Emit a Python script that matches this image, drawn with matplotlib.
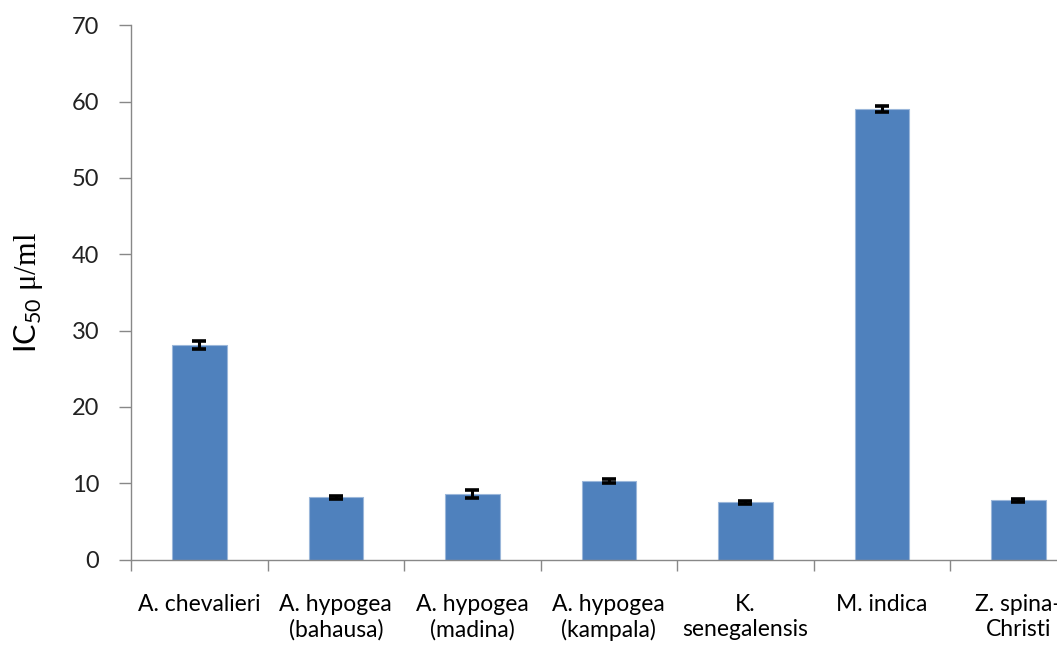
import matplotlib
matplotlib.use("Agg")
import matplotlib.pyplot as plt
import numpy as np

plt.rcParams["mathtext.fontset"] = "custom"
plt.rcParams["mathtext.rm"] = "Liberation Serif"
plt.rcParams["mathtext.sf"] = "Lato"

# IC50 values per extract with standard deviations
species = ["A. chevalieri", "A. hypogea\n(bahausa)", "A. hypogea\n(madina)",
           "A. hypogea\n(kampala)", "K.\nsenegalensis", "M. indica",
           "Z. spina-\nChristi"]
ic50 = [28.1, 8.15, 8.6, 10.3, 7.5, 59.0, 7.8]
sd = [0.55, 0.2, 0.55, 0.2, 0.2, 0.4, 0.2]

fig = plt.figure(figsize=(10.57, 6.47), dpi=100)
ax = fig.add_axes([0.124, 0.135, 0.904, 0.826])

x = np.arange(len(species))
ax.bar(x, ic50, width=0.4, color="#4F81BD", edgecolor="#9BB7DA", linewidth=0.8,
       yerr=sd, error_kw=dict(ecolor="black", elinewidth=2.2, capsize=5.2, capthick=2.6))

ax.set_xlim(-0.5, len(species) - 0.5)
ax.set_ylim(0, 70)
ax.set_yticks(range(0, 71, 10))
ax.set_xticks(np.arange(-0.5, len(species), 1.0))
ax.set_xticklabels([])
ax.set_xticks(x, minor=True)
ax.set_xticklabels(species, minor=True, fontsize=16.5, family="Lato", linespacing=1.2)
ax.tick_params(axis="x", which="minor", length=0, pad=25)
ax.tick_params(axis="x", which="major", length=8, color="#888888", width=1)
ax.tick_params(axis="y", length=9, color="#888888", width=1, pad=14, labelsize=17)
for lbl in ax.get_yticklabels():
    lbl.set_family("Lato")
    lbl.set_color("#222222")

for s in ["top", "right"]:
    ax.spines[s].set_visible(False)
for s in ["left", "bottom"]:
    ax.spines[s].set_color("#888888")
    ax.spines[s].set_linewidth(1)

ax.set_ylabel(r"$\mathsf{IC}_{\mathsf{50}}$ μ/ml", fontsize=22,
              family="Liberation Serif", labelpad=19)

fig.savefig("out.png", dpi=100)
